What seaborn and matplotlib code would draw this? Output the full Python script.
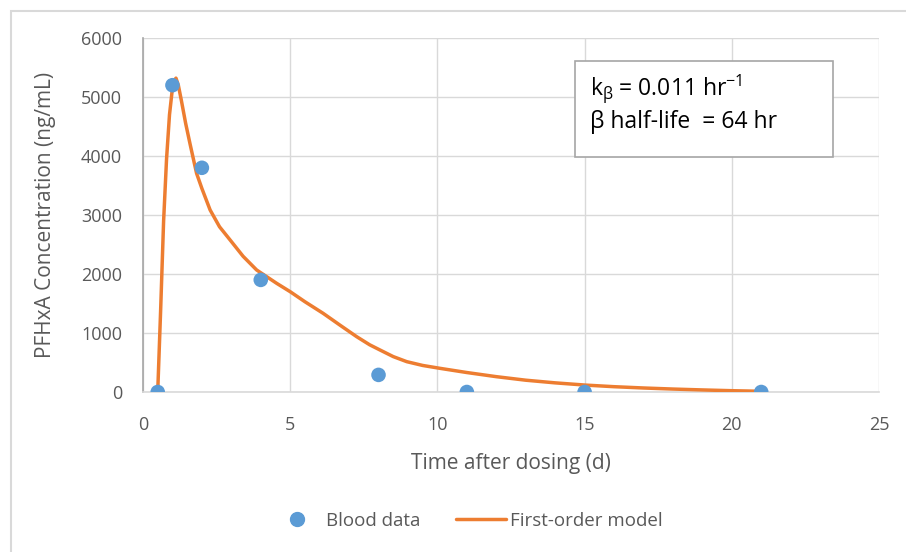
import matplotlib
matplotlib.use("Agg")
import matplotlib.pyplot as plt
import seaborn as sns
import pandas as pd
from matplotlib.patches import Rectangle
from matplotlib.lines import Line2D

# Data
blood_t = [0.5, 1, 2, 4, 8, 11, 15, 21]
blood_c = [0, 5200, 3800, 1900, 290, 0, 0, 0]

model_t = [0.5, 0.6, 0.7, 0.8, 0.9, 1.0, 1.05, 1.12, 1.2, 1.3, 1.45, 1.6, 1.82, 2.0, 2.28, 2.6,
           2.96, 3.4, 3.86, 4.54, 5.0, 5.5, 6.12, 6.7, 7.26, 7.7, 8.05, 8.5, 8.96, 9.5, 10.09,
           11, 12, 13, 14, 15, 16, 17, 18, 19, 20, 21]
model_c = [0, 1400, 2900, 3950, 4700, 5150, 5270, 5320, 5200, 4950, 4550, 4200, 3706, 3450, 3085,
           2800, 2576, 2300, 2068, 1842, 1700, 1530, 1333, 1130, 937, 800, 712, 600, 514, 450, 401,
           330, 260, 200, 155, 118, 90, 68, 50, 35, 22, 12]

x_ticks = [0, 5, 10, 15, 20, 25]
y_ticks = [0, 1000, 2000, 3000, 4000, 5000, 6000]

sns.set_theme(style="white")
plt.rcParams['font.family'] = ['Open Sans', 'DejaVu Sans']
plt.rcParams['mathtext.fontset'] = 'custom'
plt.rcParams['mathtext.rm'] = 'Open Sans'
plt.rcParams['mathtext.it'] = 'Open Sans'

W, H = 906, 552
fig = plt.figure(figsize=(W / 100, H / 100), dpi=100)
ax = fig.add_axes([143 / W, 1 - 392 / H, (879 - 143) / W, (392 - 38) / H])

blue = '#5b9bd5'
orange = '#ed7d31'
txt = '#595959'

df_model = pd.DataFrame({'t': model_t, 'c': model_c})
df_blood = pd.DataFrame({'t': blood_t, 'c': blood_c})

sns.lineplot(data=df_model, x='t', y='c', ax=ax, color=orange, lw=2.5, sort=False, zorder=3)
sns.scatterplot(data=df_blood, x='t', y='c', ax=ax, color=blue, s=110, edgecolor='none', zorder=4)

ax.set_xlim(0, 25)
ax.set_ylim(0, 6000)
ax.set_xticks(x_ticks)
ax.set_yticks(y_ticks)
ax.set_xticklabels([str(v) for v in x_ticks])
ax.set_yticklabels([str(v) for v in y_ticks])
ax.tick_params(axis='both', length=0, labelsize=13, colors=txt)
ax.tick_params(axis='x', pad=17)
ax.tick_params(axis='y', pad=15)
ax.grid(True, color='#d9d9d9', lw=1)
ax.set_axisbelow(True)
for s in ['top', 'right']:
    ax.spines[s].set_visible(False)
ax.spines['left'].set_color('#a6a6a6')
ax.spines['left'].set_linewidth(1.2)
ax.spines['bottom'].set_color('#d9d9d9')
ax.spines['bottom'].set_linewidth(1.2)

ax.set_xlabel('Time after dosing (d)', fontsize=15, color=txt, labelpad=14)
ax.set_ylabel('PFHxA Concentration (ng/mL)', fontsize=15, color=txt, labelpad=18)

# annotation box
box = Rectangle((575 / W, 1 - 157 / H), (833 - 575) / W, (157 - 61) / H, transform=fig.transFigure,
                facecolor='white', edgecolor='#a6a6a6', lw=1.2, zorder=5)
fig.patches.append(box)
fig.text(590 / W, 1 - 89 / H, r'k$_\beta$ = 0.011 hr$^{-1}$', fontsize=16.5, color='black',
         va='center', ha='left', zorder=6)
fig.text(590 / W, 1 - 122 / H, 'β half-life  = 64 hr', fontsize=16.5, color='black',
         va='center', ha='left', zorder=6)

# outer chart border
border = Rectangle((11 / W, -0.2), 1.2, (H - 11) / H + 0.2, transform=fig.transFigure,
                   facecolor='none', edgecolor='#d9d9d9', lw=1.5)
fig.patches.append(border)

handles = [Line2D([], [], marker='o', ls='none', color=blue, markersize=10),
           Line2D([], [], color=orange, lw=2.5)]
leg = fig.legend(handles, ['Blood data', 'First-order model'], loc='center', bbox_to_anchor=(467 / W, 1 - 521 / H),
                 ncol=2, frameon=False, fontsize=13.5, handlelength=2.7, columnspacing=1.9, handletextpad=0.2)
for t in leg.get_texts():
    t.set_color(txt)

fig.savefig('out.png', dpi=100)
